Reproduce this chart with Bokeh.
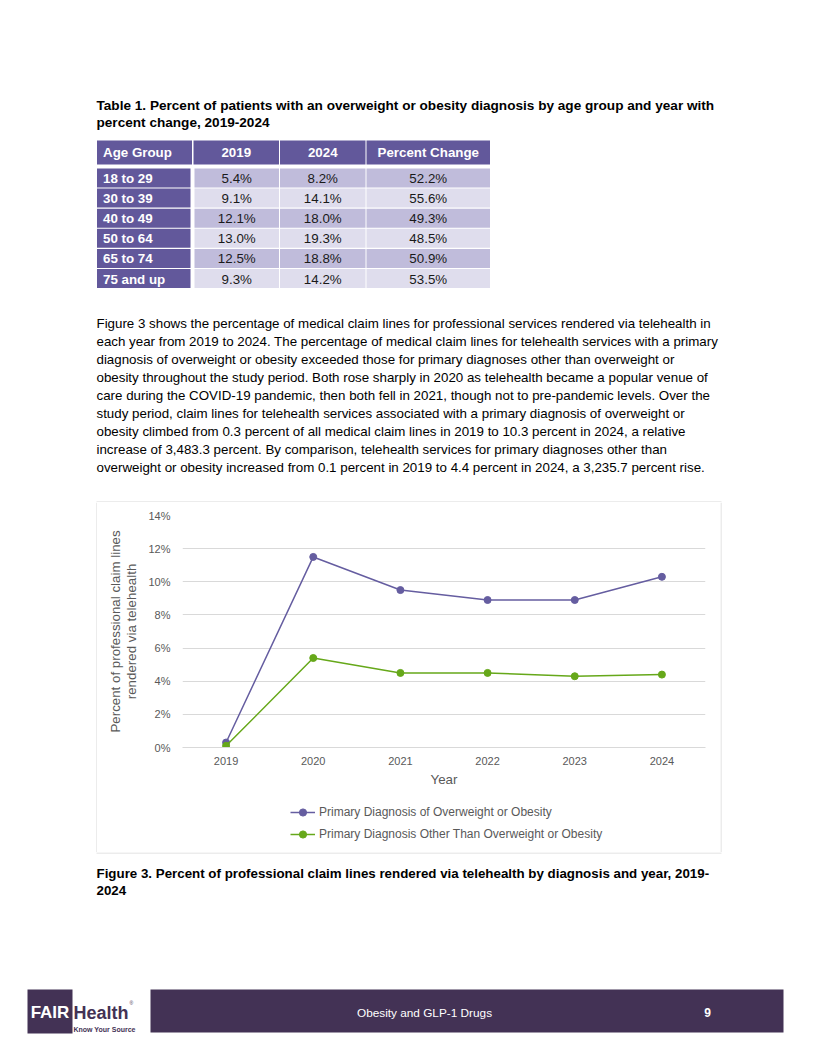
from bokeh.plotting import figure
from bokeh.layouts import column, row
from bokeh.models import (FactorRange, Range1d, FixedTicker, PrintfTickFormatter,
                          Legend, LegendItem, ColumnDataSource)
from bokeh.core.properties import value
from bokeh.embed import file_html
from bokeh.resources import INLINE

FONT = "Liberation Sans"

# ---------------- data ----------------
table_title = ["Table 1. Percent of patients with an overweight or obesity diagnosis by age group and year with",
               "percent change, 2019-2024"]
table_headers = ["Age Group", "2019", "2024", "Percent Change"]
age_groups = ["18 to 29", "30 to 39", "40 to 49", "50 to 64", "65 to 74", "75 and up"]
pct_2019 = [5.4, 9.1, 12.1, 13.0, 12.5, 9.3]
pct_2024 = [8.2, 14.1, 18.0, 19.3, 18.8, 14.2]
pct_change = [52.2, 55.6, 49.3, 48.5, 50.9, 53.5]

paragraph = [
    "Figure 3 shows the percentage of medical claim lines for professional services rendered via telehealth in",
    "each year from 2019 to 2024. The percentage of medical claim lines for telehealth services with a primary",
    "diagnosis of overweight or obesity exceeded those for primary diagnoses other than overweight or",
    "obesity throughout the study period. Both rose sharply in 2020 as telehealth became a popular venue of",
    "care during the COVID-19 pandemic, then both fell in 2021, though not to pre-pandemic levels. Over the",
    "study period, claim lines for telehealth services associated with a primary diagnosis of overweight or",
    "obesity climbed from 0.3 percent of all medical claim lines in 2019 to 10.3 percent in 2024, a relative",
    "increase of 3,483.3 percent. By comparison, telehealth services for primary diagnoses other than",
    "overweight or obesity increased from 0.1 percent in 2019 to 4.4 percent in 2024, a 3,235.7 percent rise.",
]

years = ["2019", "2020", "2021", "2022", "2023", "2024"]
overweight_obesity = [0.3, 11.5, 9.5, 8.9, 8.9, 10.3]
other_diagnosis = [0.1, 5.4, 4.5, 4.5, 4.3, 4.4]
y_ticks = [0, 2, 4, 6, 8, 10, 12, 14]
series_labels = ["Primary Diagnosis of Overweight or Obesity",
                 "Primary Diagnosis Other Than Overweight or Obesity"]
x_title = "Year"
y_title = "Percent of professional claim lines\nrendered via telehealth"

caption = ["Figure 3. Percent of professional claim lines rendered via telehealth by diagnosis and year, 2019-",
           "2024"]
footer_title = "Obesity and GLP-1 Drugs"
page_number = "9"

# ---------------- styles ----------------
W = 800
FS = "13.33px"
TABLE_PURPLE = "#62589b"
ROW_DARK = "#c0bcdb"
ROW_LIGHT = "#dfdded"
PURPLE = "#655da0"
GREEN = "#66a81a"
GRID = "#d9d9d9"
AXIS_TEXT = "#595959"
FOOTER = "#433255"

BOX_L, BOX_R, BOX_T, BOX_B = 96, 720, 501, 852
LEG_T = 790  # page y where the legend strip of the chart box starts
FRAME_L, FRAME_W = 85, 523  # plot area offset inside the chart figure, and its width


def page_fig(w, h):
    f = figure(width=w, height=h, x_range=Range1d(0, w), y_range=Range1d(h, 0),
               x_axis_type=None, y_axis_type=None, min_border=0,
               outline_line_color=None, toolbar_location=None, output_backend="svg")
    f.grid.visible = False
    return f


# ---------------- top: title, table, paragraph (page y 0..502) ----------------
TOP_H = BOX_T + 1
top = page_fig(W, TOP_H)
top.text(x=[96] * len(table_title), y=[105 + 16.7 * i for i in range(len(table_title))],
         text=table_title, text_font=value(FONT), text_font_size="13.6px", text_font_style="bold",
         text_baseline="middle", text_color="black")

col_left = [96.5, 193, 279.5, 366]
col_right = [191.5, 278.5, 365, 489.5]
hdr_top, hdr_bot = 140, 164
row_top0, row_pitch, row_h = 168, 20.1, 19

top.quad(left=col_left, right=col_right, top=[hdr_top] * 4, bottom=[hdr_bot] * 4,
         fill_color=TABLE_PURPLE, line_color=None)
hx = [col_left[0] + 6] + [(l + r) / 2 for l, r in zip(col_left[1:], col_right[1:])]
top.text(x=hx[:1], y=[(hdr_top + hdr_bot) / 2], text=table_headers[:1],
         text_font=value(FONT), text_font_size=FS, text_font_style="bold",
         text_color="white", text_baseline="middle", text_align="left")
top.text(x=hx[1:], y=[(hdr_top + hdr_bot) / 2] * 3, text=table_headers[1:],
         text_font=value(FONT), text_font_size=FS, text_font_style="bold",
         text_color="white", text_baseline="middle", text_align="center")

n = len(age_groups)
rt = [row_top0 + row_pitch * i for i in range(n)]
rb = [t + row_h for t in rt]
rc = [(t + b) / 2 + 0.5 for t, b in zip(rt, rb)]
top.quad(left=[col_left[0]] * n, right=[190] * n, top=rt, bottom=rb,
         fill_color=TABLE_PURPLE, line_color=None)
top.text(x=[hx[0]] * n, y=rc, text=age_groups, text_font=value(FONT), text_font_size=FS,
         text_font_style="bold", text_color="white", text_baseline="middle")
body_left = [194, 279.5, 366]
body_right = [278.5, 365, 489.5]
cols = [pct_2019, pct_2024, pct_change]
for j in range(3):
    top.quad(left=[body_left[j]] * n, right=[body_right[j]] * n, top=rt, bottom=rb,
             fill_color=[ROW_DARK if i % 2 == 0 else ROW_LIGHT for i in range(n)], line_color=None)
    top.text(x=[(body_left[j] + body_right[j]) / 2] * n, y=rc,
             text=[f"{v:.1f}%" for v in cols[j]], text_font=value(FONT), text_font_size=FS,
             text_color="#1a1a1a", text_baseline="middle", text_align="center")

top.text(x=[96] * len(paragraph), y=[323 + 18 * i for i in range(len(paragraph))],
         text=paragraph, text_font=value(FONT), text_font_size=FS, text_color="black",
         text_baseline="middle")
# top edge of the chart box
top.segment(x0=[BOX_L], y0=[BOX_T + 0.5], x1=[BOX_R + 1], y1=[BOX_T + 0.5], line_color=GRID, line_width=1)

# ---------------- chart (page x 97..720, y 502..790) ----------------
CX0 = BOX_L + 1
CW = BOX_R - CX0
CH = LEG_T - (BOX_T + 1)
chart = figure(width=CW, height=CH, x_range=FactorRange(factors=years), y_range=Range1d(0, 14),
               min_border_left=FRAME_L, min_border_right=CW - FRAME_L - FRAME_W, min_border_top=13,
               min_border_bottom=CH - 13 - 232,
               toolbar_location=None, output_backend="svg", outline_line_color=None)
chart.xgrid.visible = False
chart.ygrid.grid_line_color = GRID
chart.ygrid.grid_line_width = 1

yax = chart.yaxis[0]
yax.ticker = FixedTicker(ticks=y_ticks)
yax.formatter = PrintfTickFormatter(format="%d%%")
yax.axis_line_color = None
yax.major_label_standoff = 12
yax.axis_label = y_title
yax.axis_label_standoff = 6
yax.axis_label_text_line_height = 1.1

xax = chart.xaxis[0]
xax.axis_line_color = GRID
xax.major_label_standoff = 9
xax.axis_label = x_title
xax.axis_label_standoff = 4

for ax in (xax, yax):
    ax.major_tick_line_color = None
    ax.minor_tick_line_color = None
    ax.major_tick_out = 0
    ax.major_tick_in = 0
    ax.minor_tick_out = 0
    ax.minor_tick_in = 0
    ax.major_label_text_font = FONT
    ax.major_label_text_font_size = "11px"
    ax.major_label_text_color = AXIS_TEXT
    ax.axis_label_text_font = FONT
    ax.axis_label_text_font_size = FS
    ax.axis_label_text_font_style = "normal"
    ax.axis_label_text_color = AXIS_TEXT

src = ColumnDataSource(dict(year=years, ow=overweight_obesity, ot=other_diagnosis))


def draw_series(fig):
    rs = []
    for col, field in ((PURPLE, "ow"), (GREEN, "ot")):
        lr = fig.line("year", field, source=src, line_color=col, line_width=1.5)
        sr = fig.scatter("year", field, source=src, size=7, fill_color=col, line_color=col)
        rs.append([lr, sr])
    return rs


draw_series(chart)

# ---------------- legend strip of the chart box (page x 97..720, y 790..852) ----------------
# same series, drawn against a y range that keeps them out of view; only the legend shows
LH = BOX_B - LEG_T
leg_fig = figure(width=CW, height=LH, x_range=chart.x_range, y_range=Range1d(100, 101),
                 x_axis_type=None, y_axis_type=None,
                 min_border_left=FRAME_L, min_border_right=CW - FRAME_L - FRAME_W,
                 min_border_top=0, min_border_bottom=0,
                 outline_line_color=None, toolbar_location=None, output_backend="svg")
leg_fig.grid.visible = False
leg_rs = draw_series(leg_fig)
items = [LegendItem(label=lab, renderers=rs) for lab, rs in zip(series_labels, leg_rs)]
leg_top_page = 802.7
leg_left_page = 290
legend = Legend(items=items,
                location=(leg_left_page - (CX0 + FRAME_L), LH - (leg_top_page - LEG_T) - 40),
                orientation="vertical", padding=0, margin=0, spacing=4,
                glyph_width=25, glyph_height=18, label_height=18, label_standoff=4,
                label_text_font=FONT, label_text_font_size="12px", label_text_color=AXIS_TEXT,
                border_line_color=None, background_fill_alpha=0)
leg_fig.add_layout(legend)

# side edges of the chart box
SH = BOX_B - (BOX_T + 1)
left_side = page_fig(CX0, SH)
left_side.segment(x0=[BOX_L + 0.5], y0=[0], x1=[BOX_L + 0.5], y1=[SH], line_color=GRID, line_width=1)
right_side = page_fig(W - BOX_R, SH)
right_side.segment(x0=[0.5], y0=[0], x1=[0.5], y1=[SH], line_color=GRID, line_width=1)

# ---------------- bottom: caption and footer (page y 852..1040) ----------------
B0 = BOX_B
BOT_H = 1040 - B0
bottom = page_fig(W, BOT_H)
bottom.segment(x0=[BOX_L], y0=[0.5], x1=[BOX_R + 1], y1=[0.5], line_color=GRID, line_width=1)
bottom.text(x=[96] * 2, y=[873.3 - B0, 890 - B0], text=caption, text_font=value(FONT),
            text_font_size=FS, text_font_style="bold", text_color="black", text_baseline="middle")
bottom.quad(left=[150], right=[783], top=[989 - B0], bottom=[1032 - B0],
            fill_color=FOOTER, line_color=None)
bottom.quad(left=[27], right=[72], top=[989 - B0], bottom=[1033 - B0],
            fill_color=FOOTER, line_color=None)
bottom.text(x=[49.5], y=[1012 - B0], text=["FAIR"], text_font=value(FONT), text_font_size="17px",
            text_font_style="bold", text_color="white", text_align="center", text_baseline="middle")
bottom.text(x=[73], y=[1012 - B0], text=["Health"], text_font=value(FONT), text_font_size="18px",
            text_font_style="bold", text_color=FOOTER, text_align="left", text_baseline="middle")
bottom.text(x=[129], y=[1002 - B0], text=["®"], text_font=value(FONT), text_font_size="5px",
            text_color=FOOTER, text_align="left", text_baseline="middle")
bottom.text(x=[73], y=[1029 - B0], text=["Know Your Source"], text_font=value(FONT),
            text_font_size="7px", text_font_style="bold", text_color=FOOTER, text_baseline="middle")
bottom.text(x=[424], y=[1012 - B0], text=[footer_title], text_font=value(FONT), text_font_size="11.8px",
            text_color="white", text_align="center", text_baseline="middle")
bottom.text(x=[707], y=[1012 - B0], text=[page_number], text_font=value(FONT), text_font_size="12px",
            text_font_style="bold", text_color="white", text_align="center", text_baseline="middle")

layout = column(top, row(left_side, column(chart, leg_fig), right_side), bottom)

with open("out.html", "w") as fh:
    fh.write(file_html(layout, INLINE))
